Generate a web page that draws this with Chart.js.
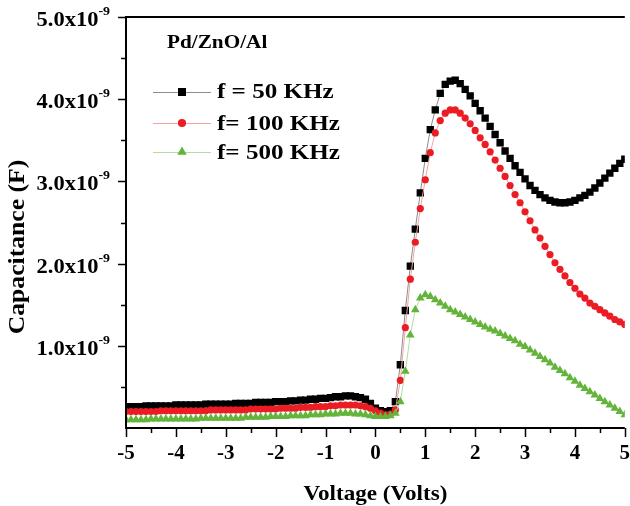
<!DOCTYPE html>
<html>
<head>
<meta charset="utf-8">
<script src="https://cdn.jsdelivr.net/npm/chart.js@4.4.1/dist/chart.umd.min.js"></script>
<style>
  html, body { margin: 0; padding: 0; background: #fff; }
</style>
</head>
<body>
<canvas id="cv" width="630" height="506"></canvas>
<script>
/* C-V sweep of the Pd/ZnO/Al diode at three test frequencies.
   Capacitance values are in units of 1e-9 F (the axis is labelled in x10^-9). */

const voltage = [
  -5.0, -4.9, -4.8, -4.7, -4.6, -4.5, -4.4, -4.3, -4.2, -4.1,
  -4.0, -3.9, -3.8, -3.7, -3.6, -3.5, -3.4, -3.3, -3.2, -3.1,
  -3.0, -2.9, -2.8, -2.7, -2.6, -2.5, -2.4, -2.3, -2.2, -2.1,
  -2.0, -1.9, -1.8, -1.7, -1.6, -1.5, -1.4, -1.3, -1.2, -1.1,
  -1.0, -0.9, -0.8, -0.7, -0.6, -0.5, -0.4, -0.3, -0.2, -0.1,
   0.0,  0.1,  0.2,  0.3,  0.4,  0.5,  0.6,  0.7,  0.8,  0.9,
   1.0,  1.1,  1.2,  1.3,  1.4,  1.5,  1.6,  1.7,  1.8,  1.9,
   2.0,  2.1,  2.2,  2.3,  2.4,  2.5,  2.6,  2.7,  2.8,  2.9,
   3.0,  3.1,  3.2,  3.3,  3.4,  3.5,  3.6,  3.7,  3.8,  3.9,
   4.0,  4.1,  4.2,  4.3,  4.4,  4.5,  4.6,  4.7,  4.8,  4.9,
   5.0
];

const cap50k = [
  0.26, 0.26, 0.26, 0.26, 0.27, 0.27, 0.27, 0.27, 0.27, 0.27,
  0.28, 0.28, 0.28, 0.28, 0.28, 0.28, 0.29, 0.29, 0.29, 0.29,
  0.29, 0.29, 0.30, 0.30, 0.30, 0.30, 0.31, 0.31, 0.31, 0.31,
  0.32, 0.32, 0.32, 0.33, 0.33, 0.34, 0.34, 0.35, 0.35, 0.36,
  0.36, 0.37, 0.38, 0.38, 0.39, 0.39, 0.38, 0.37, 0.35, 0.30,
  0.24, 0.21, 0.20, 0.21, 0.32, 0.77, 1.43, 1.97, 2.42, 2.86,
  3.28, 3.63, 3.87, 4.07, 4.18, 4.22, 4.23, 4.19, 4.12, 4.04,
  3.95, 3.86, 3.77, 3.67, 3.57, 3.47, 3.37, 3.28, 3.19, 3.11,
  3.03, 2.95, 2.89, 2.84, 2.80, 2.77, 2.75, 2.74, 2.74, 2.75,
  2.77, 2.80, 2.83, 2.87, 2.92, 2.98, 3.04, 3.10, 3.16, 3.22,
  3.27
];

const cap100k = [
  0.20, 0.20, 0.20, 0.20, 0.20, 0.20, 0.20, 0.21, 0.21, 0.21,
  0.21, 0.21, 0.21, 0.21, 0.21, 0.21, 0.21, 0.22, 0.22, 0.22,
  0.22, 0.22, 0.22, 0.22, 0.22, 0.23, 0.23, 0.23, 0.23, 0.23,
  0.23, 0.24, 0.24, 0.24, 0.24, 0.25, 0.25, 0.25, 0.26, 0.26,
  0.26, 0.27, 0.27, 0.28, 0.28, 0.28, 0.28, 0.27, 0.26, 0.24,
  0.21, 0.18, 0.16, 0.17, 0.22, 0.58, 1.22, 1.81, 2.26, 2.67,
  3.02, 3.35, 3.59, 3.74, 3.83, 3.87, 3.87, 3.83, 3.77, 3.70,
  3.62, 3.53, 3.45, 3.36, 3.26, 3.16, 3.06, 2.95, 2.84, 2.74,
  2.63, 2.52, 2.41, 2.31, 2.21, 2.11, 2.01, 1.93, 1.85, 1.77,
  1.70, 1.63, 1.58, 1.52, 1.48, 1.44, 1.40, 1.36, 1.32, 1.29,
  1.26
];

const cap500k = [
  0.10, 0.10, 0.10, 0.10, 0.10, 0.11, 0.11, 0.11, 0.11, 0.11,
  0.11, 0.11, 0.11, 0.11, 0.11, 0.12, 0.12, 0.12, 0.12, 0.12,
  0.12, 0.12, 0.12, 0.12, 0.13, 0.13, 0.13, 0.13, 0.13, 0.14,
  0.14, 0.14, 0.14, 0.15, 0.15, 0.15, 0.15, 0.16, 0.16, 0.16,
  0.17, 0.17, 0.17, 0.18, 0.18, 0.18, 0.17, 0.17, 0.16, 0.15,
  0.14, 0.14, 0.14, 0.15, 0.18, 0.32, 0.69, 1.13, 1.44, 1.58,
  1.62, 1.60, 1.56, 1.52, 1.48, 1.44, 1.41, 1.38, 1.35, 1.32,
  1.29, 1.26, 1.23, 1.20, 1.18, 1.15, 1.12, 1.09, 1.06, 1.02,
  0.99, 0.95, 0.91, 0.87, 0.83, 0.79, 0.74, 0.70, 0.66, 0.61,
  0.57, 0.52, 0.48, 0.44, 0.40, 0.36, 0.32, 0.28, 0.24, 0.20,
  0.16
];

const seriesNames = ['f = 50 KHz', 'f= 100 KHz', 'f= 500 KHz'];
const sampleName = 'Pd/ZnO/Al';

const xTickValues = [-5, -4, -3, -2, -1, 0, 1, 2, 3, 4, 5];
const xTickLabels = ['-5', '-4', '-3', '-2', '-1', '0', '1', '2', '3', '4', '5'];
const yTickValues = [1, 2, 3, 4, 5];
const yTickLabels = ['1.0x10', '2.0x10', '3.0x10', '4.0x10', '5.0x10'];
const yTickExponent = '-9';
const xTitle = 'Voltage (Volts)';
const yTitle = 'Capacitance (F)';

const SERIF = '"Liberation Serif", "Times New Roman", serif';

function toPoints(ys) {
  return voltage.map((v, i) => ({ x: v, y: ys[i] }));
}

// text drawn slightly wider than the font's natural width
function wideText(ctx, str, x, y, sx, align) {
  ctx.save();
  ctx.translate(x, y);
  ctx.scale(sx, 1);
  ctx.textAlign = align || 'left';
  ctx.fillText(str, 0, 0);
  ctx.restore();
}

const frame = {
  id: 'frame',
  afterDraw(chart) {
    const { ctx, chartArea: a, scales } = chart;
    const xs = scales.x, ys = scales.y;
    ctx.save();
    ctx.strokeStyle = '#000';
    ctx.fillStyle = '#000';
    ctx.lineWidth = 2;

    // box
    ctx.beginPath();
    ctx.moveTo(a.left, a.top); ctx.lineTo(a.right, a.top);
    ctx.moveTo(a.left, a.top - 1); ctx.lineTo(a.left, a.bottom + 1);
    ctx.moveTo(a.left - 1, a.bottom); ctx.lineTo(a.right, a.bottom);
    ctx.stroke();

    // x ticks, major every volt, minor at the halves
    ctx.lineWidth = 1.5;
    ctx.beginPath();
    for (let v = -5; v <= 5; v += 0.5) {
      const px = Math.round(xs.getPixelForValue(v)) + 0.5;
      const len = Number.isInteger(v) ? 9 : 5;
      ctx.moveTo(px, a.bottom); ctx.lineTo(px, a.bottom + len);
    }
    // y ticks
    for (let v = 0.5; v <= 5; v += 0.5) {
      const py = Math.round(ys.getPixelForValue(v)) + 0.5;
      const len = Number.isInteger(v) ? 8 : 5;
      ctx.moveTo(a.left, py); ctx.lineTo(a.left - len, py);
    }
    ctx.stroke();

    // x tick labels
    ctx.font = 'bold 21px ' + SERIF;
    ctx.textBaseline = 'alphabetic';
    xTickValues.forEach((v, i) => {
      wideText(ctx, xTickLabels[i], xs.getPixelForValue(v), a.bottom + 31, 1.0, 'center');
    });

    // y tick labels with superscript exponent
    yTickValues.forEach((v, i) => {
      const py = ys.getPixelForValue(v);
      const right = a.left - 16;
      ctx.font = 'bold 13px ' + SERIF;
      const supW = ctx.measureText(yTickExponent).width * 1.07;
      wideText(ctx, yTickExponent, right, py - 2, 1.07, 'right');
      ctx.font = 'bold 21px ' + SERIF;
      wideText(ctx, yTickLabels[i], right - supW, py + 9, 1.07, 'right');
    });

    // axis titles
    ctx.font = 'bold 22px ' + SERIF;
    wideText(ctx, xTitle, (a.left + a.right) / 2, 500, 1.05, 'center');

    ctx.save();
    ctx.translate(24, 247);
    ctx.rotate(-Math.PI / 2);
    ctx.font = 'bold 24px ' + SERIF;
    wideText(ctx, yTitle, 0, 0, 1.07, 'center');
    ctx.restore();

    // sample name and legend inside the plot
    ctx.font = 'bold 18px ' + SERIF;
    wideText(ctx, sampleName, 167, 48, 1.18, 'left');

    const rowY = [92, 123, 152];
    const textY = [98, 130, 159];
    const order = [2, 1, 0]; // datasets are stored green, red, black
    order.forEach((di, row) => {
      const ds = chart.data.datasets[di];
      const y = rowY[row];
      ctx.strokeStyle = ds.borderColor;
      ctx.lineWidth = 1;
      ctx.beginPath();
      ctx.moveTo(153, y + 0.5); ctx.lineTo(211, y + 0.5);
      ctx.stroke();
      ctx.fillStyle = ds.pointBackgroundColor;
      Chart.helpers.drawPoint(ctx, {
        pointStyle: ds.pointStyle, radius: ds.pointRadius + 0.5, rotation: 0, borderWidth: 0
      }, 182, y);
      ctx.fillStyle = '#000';
      ctx.font = 'bold 22px ' + SERIF;
      wideText(ctx, seriesNames[row], 217, textY[row], 1.14, 'left');
    });

    ctx.restore();
  }
};

new Chart(document.getElementById('cv'), {
  type: 'line',
  data: {
    datasets: [
      {
        label: seriesNames[2], data: toPoints(cap500k), order: 0,
        borderColor: '#b4dca0', borderWidth: 1,
        pointStyle: 'triangle', pointRadius: 5, pointBorderWidth: 0,
        pointBackgroundColor: '#62b43a'
      },
      {
        label: seriesNames[1], data: toPoints(cap100k), order: 1,
        borderColor: '#f3a3a3', borderWidth: 1,
        pointStyle: 'circle', pointRadius: 3.6, pointBorderWidth: 0,
        pointBackgroundColor: '#ec1c24'
      },
      {
        label: seriesNames[0], data: toPoints(cap50k), order: 2,
        borderColor: '#8c8c8c', borderWidth: 1,
        pointStyle: 'rect', pointRadius: 5.2, pointBorderWidth: 0,
        pointBackgroundColor: '#000000'
      }
    ]
  },
  options: {
    responsive: false,
    animation: false,
    devicePixelRatio: 1,
    layout: { padding: { top: 17, right: 0, left: 0, bottom: 0 } },
    plugins: { legend: { display: false }, tooltip: { enabled: false } },
    elements: { line: { tension: 0 } },
    scales: {
      x: {
        type: 'linear', min: -5, max: 5,
        grid: { display: false }, border: { display: false },
        ticks: { display: false },
        afterFit(s) { s.height = 78; }
      },
      y: {
        type: 'linear', min: 0, max: 5,
        grid: { display: false }, border: { display: false },
        ticks: { display: false },
        afterFit(s) { s.width = 126; }
      }
    }
  },
  plugins: [frame]
});
</script>
</body>
</html>
